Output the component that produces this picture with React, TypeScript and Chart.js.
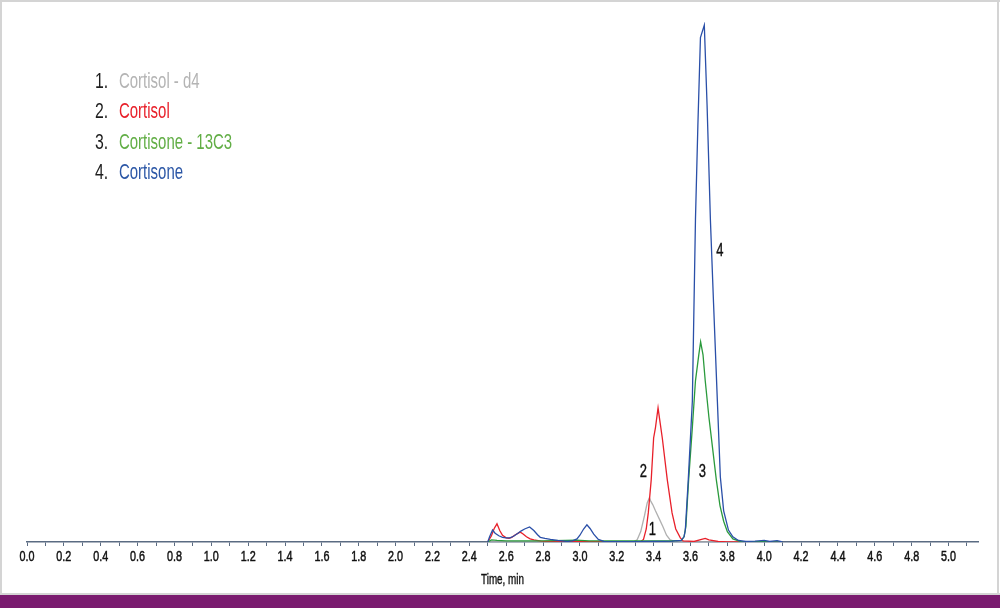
import React, { useEffect, useRef } from "react";
import { Chart, registerables } from "chart.js";

Chart.register(...registerables);

// ---- Data (time in min, intensity in % of full scale) ----
const cortisolD4T = [2.5, 3.29, 3.31, 3.33, 3.35, 3.365, 3.377, 3.385, 3.395, 3.41, 3.43, 3.45, 3.47, 3.49, 3.52, 3.6, 3.8, 4.1];
const cortisolD4Y = [0, 0, 0.4, 2, 5, 7.5, 8.5, 7.8, 7.2, 6, 4.5, 3, 1.3, 0.4, 0.05, 0, 0, 0];

const cortisolT = [2.5, 2.52, 2.535, 2.55, 2.565, 2.58, 2.6, 2.615, 2.63, 2.65, 2.676, 2.69, 2.71, 2.73, 2.75, 2.79, 2.85, 3.3, 3.33, 3.345, 3.36, 3.371, 3.387, 3.4, 3.41, 3.424, 3.435, 3.447, 3.474, 3.5, 3.52, 3.545, 3.56, 3.62, 3.66, 3.68, 3.7, 3.75, 3.8, 4.1];
const cortisolY = [0, 1.2, 2.6, 3.5, 2.2, 1.3, 0.8, 0.7, 0.9, 1.4, 1.9, 1.6, 1.0, 0.6, 0.4, 0.15, 0.05, 0.05, 0.1, 0.5, 2.5, 5.6, 12, 20, 22, 25.8, 23, 20, 12, 5.6, 2.5, 0.8, 0.2, 0.1, 0.5, 0.7, 0.4, 0.1, 0, 0];

const cortisone13C3T = [2.5, 2.52, 2.55, 2.6, 2.8, 2.98, 3.05, 3.3, 3.5, 3.55, 3.565, 3.575, 3.59, 3.61, 3.627, 3.645, 3.655, 3.668, 3.68, 3.7, 3.72, 3.74, 3.76, 3.78, 3.8, 3.83, 3.87, 4.1];
const cortisone13C3Y = [0, 0.4, 0.3, 0.2, 0.2, 0.35, 0.2, 0.2, 0.2, 0.3, 1, 3, 12, 22, 31, 36, 38.5, 36, 31, 24, 18, 12, 7, 4, 2, 0.6, 0.1, 0];

const cortisoneT = [2.5, 2.51, 2.526, 2.54, 2.56, 2.58, 2.6, 2.62, 2.64, 2.66, 2.68, 2.7, 2.727, 2.75, 2.77, 2.785, 2.81, 2.84, 2.88, 2.93, 2.96, 2.984, 3.0, 3.02, 3.038, 3.055, 3.075, 3.1, 3.13, 3.2, 3.3, 3.4, 3.5, 3.55, 3.565, 3.572, 3.588, 3.61, 3.627, 3.64, 3.654, 3.675, 3.69, 3.708, 3.725, 3.746, 3.762, 3.78, 3.806, 3.83, 3.86, 3.9, 3.95, 4.0, 4.03, 4.07, 4.1];
const cortisoneY = [0, 1.0, 2.3, 1.7, 1.2, 0.9, 0.8, 0.8, 1.1, 1.6, 2.1, 2.5, 2.9, 2.2, 1.4, 0.9, 0.7, 0.5, 0.3, 0.1, 0.2, 0.6, 1.3, 2.5, 3.3, 2.6, 1.5, 0.5, 0.1, 0.05, 0.05, 0.1, 0.15, 0.3, 1, 2.3, 12, 27, 62, 80, 97, 99.4, 84, 62, 46, 27, 12.5, 6, 2.3, 1, 0.3, 0.1, 0.15, 0.3, 0.1, 0.25, 0];

const seriesNames = ["Cortisol - d4", "Cortisol", "Cortisone - 13C3", "Cortisone"];
const lineColors = ["#b0b0b0", "#e8202a", "#2a9a3c", "#2a4fa8"];
const legendColors = ["#b4b4b4", "#e8202a", "#62ae46", "#2c57a6"];

const TICK_LABELS = ["0.0", "0.2", "0.4", "0.6", "0.8", "1.0", "1.2", "1.4", "1.6", "1.8", "2.0", "2.2", "2.4", "2.6", "2.8", "3.0", "3.2", "3.4", "3.6", "3.8", "4.0", "4.2", "4.4", "4.6", "4.8", "5.0"];
const X_TITLE = "Time, min";

// peak number annotations (time, intensity)
const peakLabels = [
  { text: "1", t: 3.393, v: 2.7 },
  { text: "2", t: 3.344, v: 13.8 },
  { text: "3", t: 3.664, v: 13.8 },
  { text: "4", t: 3.759, v: 56.3 },
];

const FONT = '"Liberation Sans", Arial, sans-serif';

function condensedText(
  ctx: CanvasRenderingContext2D,
  text: string,
  x: number,
  y: number,
  size: number,
  color: string,
  align: CanvasTextAlign,
  sx: number,
  stroke = 0
) {
  ctx.save();
  ctx.translate(x, y);
  ctx.scale(sx, 1);
  ctx.font = `${size}px ${FONT}`;
  ctx.fillStyle = color;
  ctx.textAlign = align;
  ctx.textBaseline = "alphabetic";
  ctx.fillText(text, 0, 0);
  if (stroke > 0) {
    ctx.strokeStyle = color;
    ctx.lineWidth = stroke;
    ctx.strokeText(text, 0, 0);
  }
  ctx.restore();
}

const framePlugin = {
  id: "frame",
  beforeDraw(chart: any) {
    const ctx = chart.ctx as CanvasRenderingContext2D;
    const w = chart.width;
    const h = chart.height;
    ctx.save();
    ctx.fillStyle = "#ffffff";
    ctx.fillRect(0, 0, w, h);
    ctx.fillStyle = "#d4d4d4";
    ctx.fillRect(0, 0, w, 2);
    ctx.fillRect(0, 0, 2, h - 13);
    ctx.fillRect(w - 3, 0, 2, h - 13);
    ctx.fillRect(0, h - 15, w, 2);
    ctx.fillStyle = "#7a1b6f";
    ctx.fillRect(0, h - 13, w, 13);
    ctx.restore();
  },
  afterDraw(chart: any) {
    const ctx = chart.ctx as CanvasRenderingContext2D;
    const xs = chart.scales.x;
    const ys = chart.scales.y;
    const axisY = chart.chartArea.bottom;
    // tick labels
    TICK_LABELS.forEach((lab) => {
      const px = xs.getPixelForValue(parseFloat(lab));
      condensedText(ctx, lab, px, axisY + 19, 15, "#111111", "center", 0.72, 0.5);
    });
    // axis title
    const cx = (chart.chartArea.left + chart.chartArea.right) / 2;
    condensedText(ctx, X_TITLE, cx, axisY + 42, 14.5, "#111111", "center", 0.68, 0.4);
    // peak labels
    peakLabels.forEach((p) => {
      const px = xs.getPixelForValue(p.t);
      const py = ys.getPixelForValue(p.v);
      condensedText(ctx, p.text, px, py + 7, 18.5, "#111111", "center", 0.7, 0.4);
    });
    // legend
    const baselines = [87.5, 118, 148.5, 178.5];
    seriesNames.forEach((name, i) => {
      condensedText(ctx, `${i + 1}.`, 95, baselines[i], 22, "#1e1e1e", "left", 0.72);
      condensedText(ctx, name, 119, baselines[i], 22, legendColors[i], "left", 0.68);
    });
  },
};

export default function App() {
  const ref = useRef<HTMLCanvasElement>(null);
  useEffect(() => {
    if (!ref.current) return;
    const sets = [
      [cortisolD4T, cortisolD4Y],
      [cortisolT, cortisolY],
      [cortisone13C3T, cortisone13C3Y],
      [cortisoneT, cortisoneY],
    ];
    const chart = new Chart(ref.current, {
      type: "line",
      data: {
        datasets: sets.map(([t, y], i) => ({
          label: seriesNames[i],
          data: t.map((tv, k) => ({ x: tv, y: y[k] })),
          borderColor: lineColors[i],
          backgroundColor: lineColors[i],
          borderWidth: 1.3,
          pointRadius: 0,
          tension: 0,
          fill: false,
          order: 3 - i,
        })),
      },
      options: {
        responsive: false,
        maintainAspectRatio: false,
        animation: false,
        layout: { padding: { left: 27, right: 22, top: 22, bottom: 62 } },
        plugins: { legend: { display: false }, tooltip: { enabled: false } },
        scales: {
          x: {
            type: "linear",
            min: 0,
            max: 5.16,
            ticks: { display: false, stepSize: 0.1, maxTicksLimit: 100, includeBounds: false },
            grid: { drawOnChartArea: false, drawTicks: true, tickLength: 4, color: "#5a6b82", tickColor: "#5a6b82", tickWidth: 1 },
            border: { display: true, color: "#5a6b82", width: 1.5 },
          },
          y: { display: false, min: 0, max: 100 },
        },
      },
      plugins: [framePlugin],
    } as any);
    return () => chart.destroy();
  }, []);
  return (
    <div style={{ position: "absolute", left: 0, top: 0, width: 1000, height: 608 }}>
      <canvas ref={ref} width={1000} height={608} style={{ display: "block", width: 1000, height: 608 }} />
    </div>
  );
}
